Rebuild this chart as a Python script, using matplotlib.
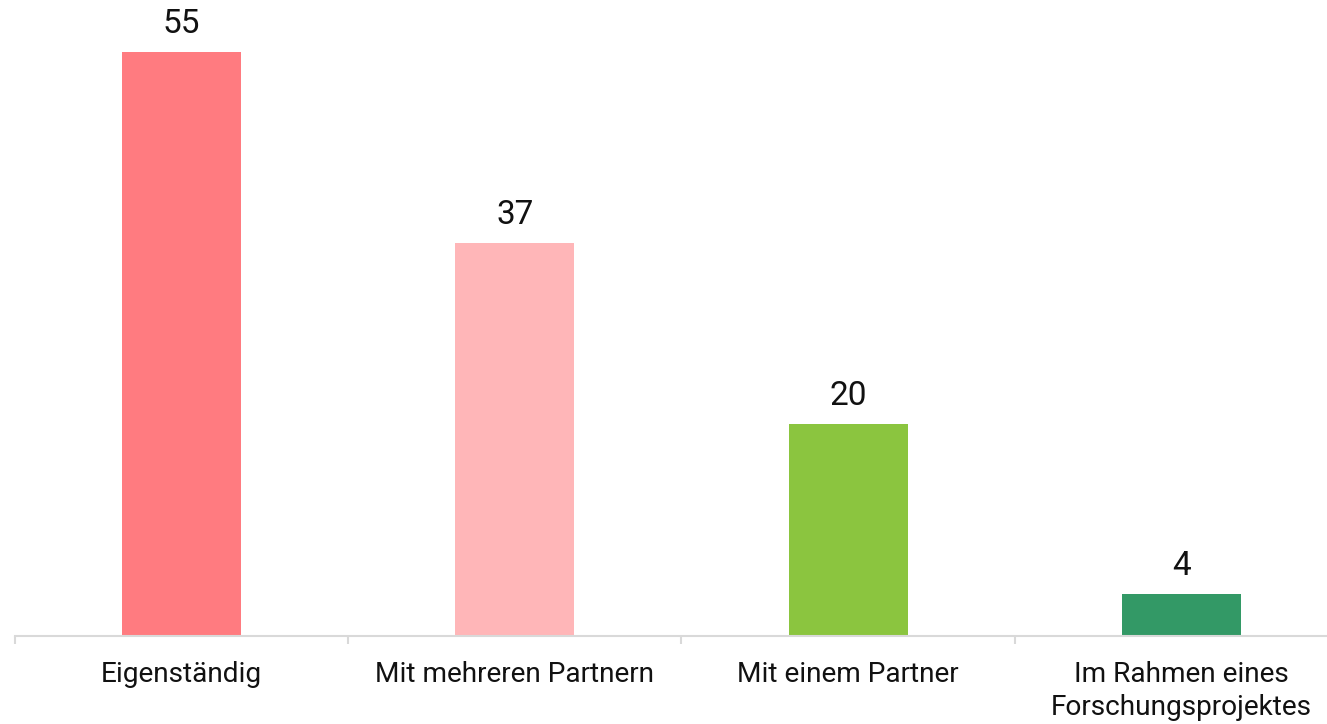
import matplotlib
matplotlib.use("Agg")
import matplotlib.pyplot as plt

categories = ["Eigenständig", "Mit mehreren Partnern", "Mit einem Partner", "Im Rahmen eines\nForschungsprojektes"]
values = [55, 37, 20, 4]
colors = ["#FF7B80", "#FFB6B8", "#8BC53F", "#339966"]

plt.rcParams['font.family'] = ['Roboto', 'DejaVu Sans']

W, H = 1327, 724
fig = plt.figure(figsize=(W/100, H/100), dpi=100)
left_px, right_px = 15, 1348
bottom_px, top_px = 636, 0
ax = fig.add_axes([left_px/W, (H-bottom_px)/H, (right_px-left_px)/W, (bottom_px-top_px)/H])

x = list(range(len(categories)))
bars = ax.bar(x, values, width=0.357, color=colors)
ax.set_xlim(-0.5, len(categories)-0.5)
ax.set_ylim(0, 59.9)

for xi, v in zip(x, values):
    ax.annotate(str(v), (xi, v), xytext=(0, 13.7), textcoords="offset points",
                ha="center", va="baseline", fontsize=24, color="#111111")

for s in ["top", "right", "left"]:
    ax.spines[s].set_visible(False)
ax.spines["bottom"].set_color("#D9D9D9")
ax.spines["bottom"].set_linewidth(1.5)
ax.set_yticks([])
ax.set_xticks([i - 0.5 for i in range(len(categories)+1)], minor=False)
ax.set_xticklabels([])
ax.tick_params(axis="x", which="major", length=6, width=1.5, color="#D9D9D9")
ax.set_xticks(x, minor=True)
ax.set_xticklabels(categories, minor=True, fontsize=20.2, color="#111111", linespacing=1.28)
ax.tick_params(axis="x", which="minor", length=0, pad=18)

fig.savefig("out.png", dpi=100)
